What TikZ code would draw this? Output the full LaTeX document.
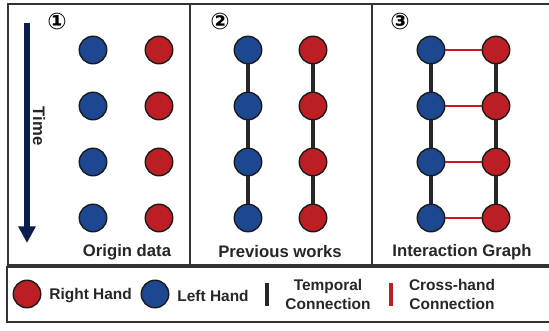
\documentclass[tikz,border=0pt]{standalone}
\usepackage{fontspec}
\setmainfont{Liberation Sans}
\newfontfamily\circfont{DejaVu Sans}
\usetikzlibrary{arrows.meta, positioning}

\definecolor{lhblue}{HTML}{1E4791}
\definecolor{rhred}{HTML}{BD1E24}
\definecolor{timenavy}{HTML}{0B1D4C}

\tikzset{
    hand/.style={circle, draw=black!90, line width=0.8pt, minimum size=0.55cm, inner sep=0pt},
    lefthand/.style={hand, fill=lhblue},
    righthand/.style={hand, fill=rhred},
    temporal/.style={line width=2.3pt, black!85},
    crosshand/.style={line width=1.7pt, rhred},
    frame/.style={line width=1.1pt, black!80},
    title/.style={font=\bfseries\fontsize{9.5}{11}\selectfont, text=black!85},
    legendtext/.style={font=\bfseries\fontsize{8.8}{10.8}\selectfont, align=center, text=black!85},
    panelnum/.style={font=\circfont\bfseries\fontsize{13}{14}\selectfont, inner sep=0pt},
}

\begin{document}
\begin{tikzpicture}[x=0.02cm, y=-0.02cm]

        \clip (0,0) rectangle (549,331);

        % frames
        \draw[frame] (8,4) rectangle (555,265);
        \draw[frame] (190,4) -- (190,265);
        \draw[frame] (372,4) -- (372,265);
        \draw[frame] (7,267) rectangle (555,322);

        % panel 1: origin data
        \node[panelnum] (num1) at (57,22) {①};
        \coordinate (tstart) at (27,23);
        \coordinate (tend) at (27,243);
        \draw[line width=3.4pt, timenavy, -{Triangle[length=9.5pt, width=9.5pt]}] (tstart) -- (tend);
        \node[title, rotate=-90] (time) at (39,126) {Time};
        \foreach \y [count=\i] in {50, 106, 162, 218} {
                \node[lefthand] (al\i) at (93, \y) {};
                \node[righthand] (ar\i) at (159, \y) {};
            }
        \node[title] (orig) at (127,252) {Origin data};

        % panel 2: previous works
        \node[panelnum] (num2) at (220,22) {②};
        \foreach \y [count=\i] in {50, 106, 162, 218} {
                \node[lefthand] (bl\i) at (248, \y) {};
                \node[righthand] (br\i) at (313, \y) {};
            }
        \foreach \i/\j in {1/2, 2/3, 3/4} {
                \draw[temporal] (bl\i) -- (bl\j);
                \draw[temporal] (br\i) -- (br\j);
            }
        \node[title] (prev) at (280,252) {Previous works};

        % panel 3: interaction graph
        \node[panelnum] (num3) at (400,22) {③};
        \foreach \y [count=\i] in {50, 106, 162, 218} {
                \node[lefthand] (cl\i) at (431, \y) {};
                \node[righthand] (cr\i) at (496, \y) {};
                \draw[crosshand] (cl\i) -- (cr\i);
            }
        \foreach \i/\j in {1/2, 2/3, 3/4} {
                \draw[temporal] (cl\i) -- (cl\j);
                \draw[temporal] (cr\i) -- (cr\j);
            }
        \node[title] (inter) at (462,252) {Interaction Graph};

        % legend
        \node[righthand] (lgright) at (27,294) {};
        \node[legendtext, right=1pt of lgright, yshift=-1pt] (lgrighttxt) {Right Hand};
        \node[lefthand] (lgleft) at (155,294) {};
        \node[legendtext, right=1pt of lgleft, yshift=-1pt] (lglefttxt) {Left Hand};
        \coordinate (tpa) at (267,283);
        \coordinate (tpb) at (267,306);
        \draw[line width=2.2pt, black!85] (tpa) -- (tpb);
        \node[legendtext] (tptxt) at (328,294) {Temporal\\Connection};
        \coordinate (cha) at (391,283);
        \coordinate (chb) at (391,306);
        \draw[line width=2.2pt, rhred] (cha) -- (chb);
        \node[legendtext] (chtxt) at (452,294) {Cross-hand\\Connection};

    \end{tikzpicture}
\end{document}
